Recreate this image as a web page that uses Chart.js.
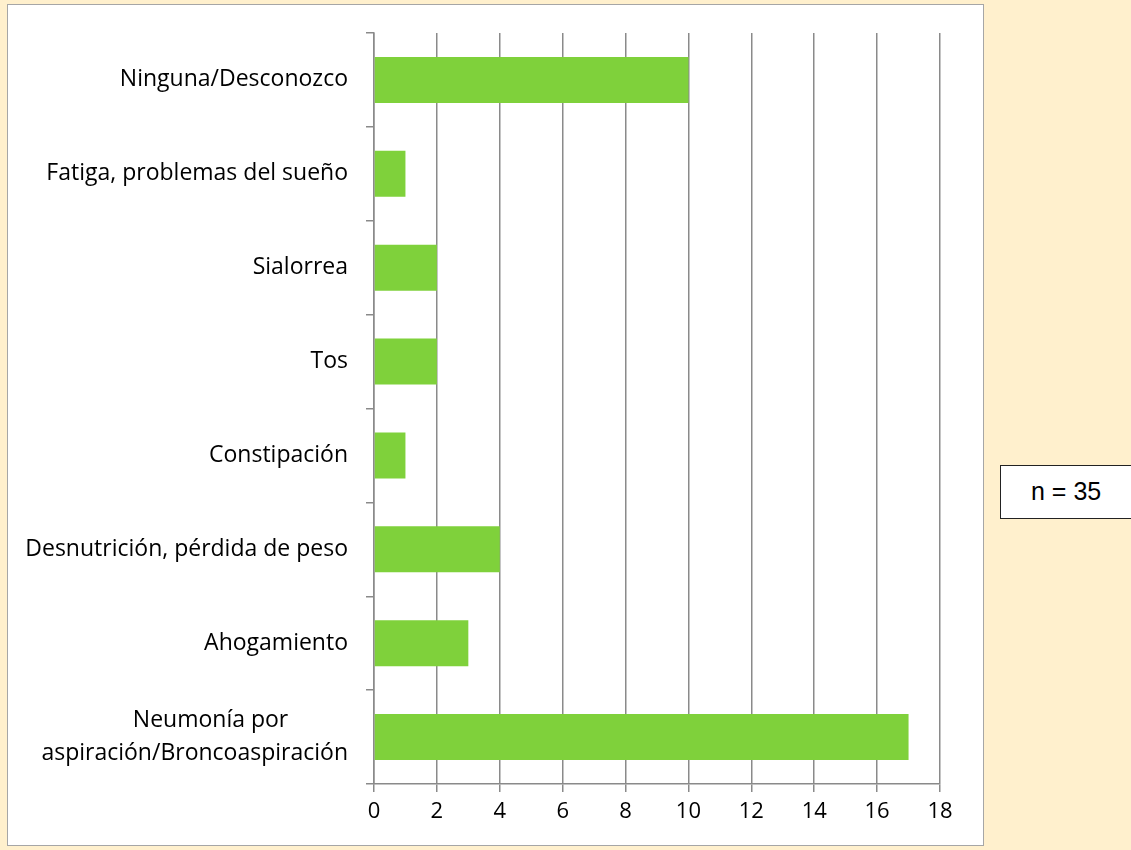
<!DOCTYPE html>
<html>
<head>
<meta charset="utf-8">
<script src="https://cdn.jsdelivr.net/npm/chart.js@4"></script>
<style>
  html, body { margin: 0; padding: 0; }
  body { width: 1131px; height: 850px; background: #fff0cd; position: relative; overflow: hidden; }
  #frame { position: absolute; left: 7px; top: 4px; width: 975px; height: 840px; background: #fff; border: 1px solid #a6a6a6; }
  #nbox { position: absolute; left: 1000px; top: 465px; width: 140px; height: 52px; background: #fff; border: 1px solid #222;
          font: 25px "Liberation Sans", Arial, sans-serif; color: #000; }
  #nbox span { position: absolute; left: 30px; top: 11px; }
  canvas { position: absolute; left: 0; top: 0; }
</style>
</head>
<body>
<div id="frame"></div>
<div id="nbox"><span>n = 35</span></div>
<canvas id="chart" width="1131" height="850"></canvas>
<script>
// categories, top to bottom
const categories = [
  'Ninguna/Desconozco',
  'Fatiga, problemas del sueño',
  'Sialorrea',
  'Tos',
  'Constipación',
  'Desnutrición, pérdida de peso',
  'Ahogamiento',
  ['Neumonía por          ', 'aspiración/Broncoaspiración']
];
const counts = [10, 1, 2, 2, 1, 4, 3, 17];
const xMin = 0;
const xMax = 18;
const xStep = 2;

const gridColor = '#8a8a8a';
const labelFont = { family: '"Open Sans", sans-serif', size: 23, lineHeight: 1.45 };

new Chart(document.getElementById('chart'), {
  type: 'bar',
  data: {
    labels: categories,
    datasets: [{
      data: counts,
      backgroundColor: '#7fd13b',
      borderWidth: 0,
      barPercentage: 0.49,
      categoryPercentage: 1
    }]
  },
  options: {
    indexAxis: 'y',
    responsive: false,
    animation: false,
    devicePixelRatio: 1,
    layout: { padding: { top: 33, right: 191, bottom: 0, left: 0 } },
    plugins: { legend: { display: false }, tooltip: { enabled: false } },
    scales: {
      x: {
        min: xMin,
        max: xMax,
        ticks: { stepSize: xStep, color: '#000', font: { family: labelFont.family, size: 22 }, padding: 7, maxRotation: 0 },
        grid: { color: gridColor, lineWidth: 1.5, tickLength: 8 },
        border: { color: gridColor, width: 1.5 },
        afterFit: s => { s.height = 66; s.paddingLeft = 0; s.paddingRight = 0; }
      },
      y: {
        ticks: { color: '#000', font: labelFont, padding: 18 },
        grid: { offset: true, drawOnChartArea: false, color: gridColor, lineWidth: 1.5, tickLength: 8 },
        border: { color: gridColor, width: 1.5 },
        afterFit: s => { s.width = 374; s.paddingTop = 0; s.paddingBottom = 0; }
      }
    }
  }
});
</script>
</body>
</html>
